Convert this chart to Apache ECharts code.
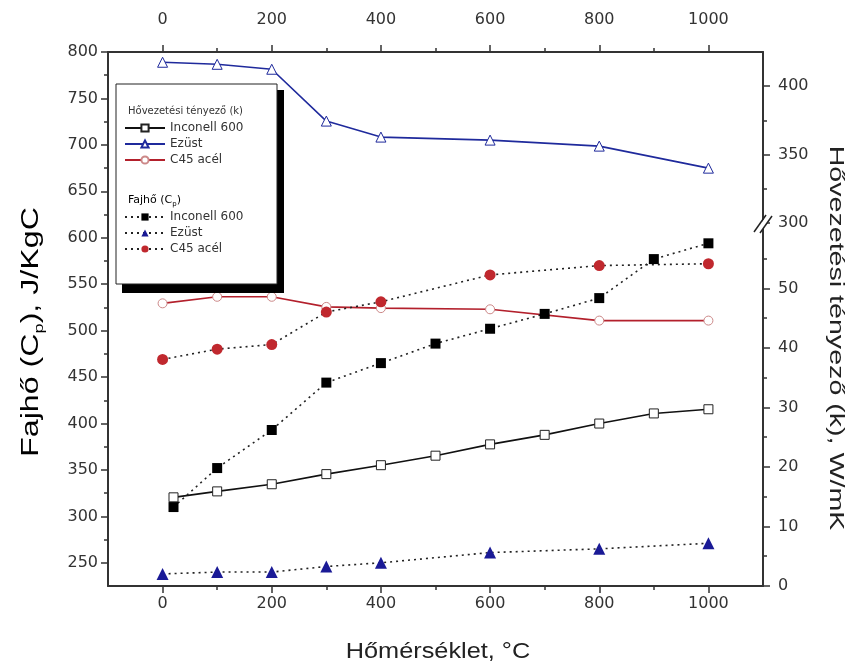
<!DOCTYPE html>
<html>
<head>
<meta charset="utf-8">
<script src="https://cdn.jsdelivr.net/npm/echarts@6/dist/echarts.min.js"></script>
<style>html,body{margin:0;padding:0;background:#fff}#c{width:852px;height:671px}</style>
</head>
<body>
<div id="c"></div>
<script>
// ---- data ----
const tempsInconel = [20, 100, 200, 300, 400, 500, 600, 700, 800, 900, 1000];
const tempsOther = [0, 100, 200, 300, 400, 600, 800, 1000];
const kInconel = [14.9, 15.9, 17.1, 18.8, 20.3, 21.9, 23.8, 25.4, 27.3, 29.0, 29.7];
const kEzust = [417.5, 416, 412.4, 374.5, 362.8, 360.6, 356.2, 340.1];
const kC45 = [47.5, 48.6, 48.6, 46.9, 46.7, 46.5, 44.6, 44.6];
const cpInconel = [310, 352, 393, 444, 465, 486, 502, 518, 535, 577, 594];
const cpEzust = [238, 240, 240, 246, 250, 261, 265, 271];
const cpC45 = [469, 480, 485, 520, 531, 560, 570, 572];
const xTicks = [0, 200, 400, 600, 800, 1000];
const xMinor = [100, 300, 500, 700, 900];
const leftTicks = [250, 300, 350, 400, 450, 500, 550, 600, 650, 700, 750, 800];
const leftMinor = [275, 325, 375, 425, 475, 525, 575, 625, 675, 725, 775];
const rightLowTicks = [0, 10, 20, 30, 40, 50];
const rightLowMinor = [5, 15, 25, 35, 45, 55];
const rightHighTicks = [300, 350, 400];
const rightHighMinor = [325, 375];
const names = ['Inconell 600', 'Ezüst', 'C45 acél'];

const zip = (xs, ys) => xs.map((x, i) => [x, ys[i]]);
const FONT = '"Liberation Sans", Arial, sans-serif';
const WFONT = '"DejaVu Sans", sans-serif';
const AX = {onZero: false, lineStyle: {color: '#333', width: 2}};
const NOAX = {show: false, onZero: false};
const lab = {fontFamily: WFONT, fontSize: 16, color: '#333', formatter: v => String(v)};

function xAx(grid, pos, major, show, margin) {
  return {
    type: 'value', gridIndex: grid, position: pos, min: -100, max: 1100,
    show: show, splitLine: {show: false},
    axisLine: major ? AX : NOAX,
    axisTick: major ? {customValues: xTicks, length: 7, lineStyle: {color: '#333', width: 1.5}}
                    : {customValues: xMinor, length: 4, lineStyle: {color: '#333', width: 1.5}},
    axisLabel: major ? Object.assign({customValues: xTicks, margin: margin}, lab) : {show: false}
  };
}
function yAx(grid, pos, min, max, ticks, len, labels, margin) {
  return {
    type: 'value', gridIndex: grid, position: pos, min: min, max: max,
    splitLine: {show: false},
    axisLine: labels ? AX : NOAX,
    axisTick: {customValues: ticks, length: len, lineStyle: {color: '#333', width: 1.5}},
    axisLabel: labels ? Object.assign({customValues: ticks, margin: margin}, lab) : {show: false}
  };
}

const chart = echarts.init(document.getElementById('c'), null, {renderer: 'canvas'});
const dotted = {color: '#222', width: 1.6, type: [2, 4]};
const BLUE = '#1f2a9c', RED = '#b3202c', MRED = '#c0282e';
const legText = {fontFamily: WFONT, fontSize: 12, color: '#333'};

chart.setOption({
  animation: false,
  backgroundColor: '#fff',
  grid: [
    {left: 108, right: 89, top: 52, bottom: 85},
    {left: 108, right: 89, top: 52, bottom: 448},
    {left: 108, right: 89, top: 223, bottom: 85}
  ],
  xAxis: [
    xAx(0, 'bottom', true, true, 10),
    xAx(0, 'bottom', false, true),
    xAx(0, 'top', true, true, 24),
    xAx(0, 'top', false, true),
    xAx(1, 'bottom', false, false),
    xAx(2, 'bottom', false, false)
  ],
  yAxis: [
    yAx(0, 'left', 225, 800, leftTicks, 7, true, 10),
    yAx(0, 'left', 225, 800, leftMinor, 4, false),
    yAx(2, 'right', 0, 61, rightLowTicks, 7, true, 15),
    yAx(2, 'right', 0, 61, rightLowMinor, 4, false),
    yAx(1, 'right', 300, 425, rightHighTicks, 7, true, 15),
    yAx(1, 'right', 300, 425, rightHighMinor, 4, false)
  ],
  legend: [
    {
      data: names.map(n => 'k|' + n), orient: 'vertical', left: 124, top: 122,
      padding: 0, itemGap: 4, itemWidth: 40, itemHeight: 9,
      formatter: n => n.split('|')[1], textStyle: legText, z: 20
    },
    {
      data: names.map(n => 'cp|' + n), orient: 'vertical', left: 124, top: 211,
      padding: 0, itemGap: 4, itemWidth: 40, itemHeight: 9,
      formatter: n => n.split('|')[1], textStyle: legText, z: 20
    }
  ],
  series: [
    {name: 'k|Inconell 600', type: 'line', xAxisIndex: 5, yAxisIndex: 2,
     data: zip(tempsInconel, kInconel), symbol: 'rect', symbolSize: 9,
     lineStyle: {color: '#111', width: 1.6}, itemStyle: {color: '#fff', borderColor: '#222', borderWidth: 1}},
    {name: 'k|Ezüst', type: 'line', xAxisIndex: 4, yAxisIndex: 4,
     data: zip(tempsOther, kEzust), symbol: 'triangle', symbolSize: 10,
     lineStyle: {color: BLUE, width: 1.6}, itemStyle: {color: '#fff', borderColor: BLUE, borderWidth: 1}},
    {name: 'k|C45 acél', type: 'line', xAxisIndex: 5, yAxisIndex: 2,
     data: zip(tempsOther, kC45), symbol: 'circle', symbolSize: 9,
     lineStyle: {color: RED, width: 1.6}, itemStyle: {color: '#fff', borderColor: '#c88', borderWidth: 1}},
    {name: 'cp|Inconell 600', type: 'line', xAxisIndex: 0, yAxisIndex: 0,
     data: zip(tempsInconel, cpInconel), symbol: 'rect', symbolSize: 10,
     lineStyle: dotted, itemStyle: {color: '#000'}},
    {name: 'cp|Ezüst', type: 'line', xAxisIndex: 0, yAxisIndex: 0,
     data: zip(tempsOther, cpEzust), symbol: 'triangle', symbolSize: 12,
     lineStyle: dotted, itemStyle: {color: '#1a1a96'}},
    {name: 'cp|C45 acél', type: 'line', xAxisIndex: 0, yAxisIndex: 0,
     data: zip(tempsOther, cpC45), symbol: 'circle', symbolSize: 11,
     lineStyle: dotted, itemStyle: {color: MRED}}
  ],
  graphic: [
    // legend box with shadow
    {type: 'rect', z: 10, shape: {x: 122, y: 90, width: 162, height: 203}, style: {fill: '#000'}},
    {type: 'rect', z: 11, shape: {x: 116, y: 84, width: 161, height: 200}, style: {fill: '#fff', stroke: '#222', lineWidth: 1}},
    {type: 'text', z: 12, x: 128, y: 106, style: {text: 'Hővezetési tényező (k)', font: '10px ' + WFONT, fill: '#333'}},
    {type: 'text', z: 12, x: 128, y: 193, style: {
      text: '{a|Fajhő (C}{s|p}{a|)}',
      rich: {a: {fontFamily: WFONT, fontSize: 11, color: '#333'},
             s: {fontFamily: WFONT, fontSize: 7, color: '#333', padding: [8, 0, 0, 0]}}}},
    // axis break mark
    {type: 'polygon', z: 15, shape: {points: [[755, 232], [766, 216], [772, 216], [761, 232]]}, style: {fill: '#fff'}},
    {type: 'line', z: 16, shape: {x1: 754, y1: 232, x2: 766, y2: 215}, style: {stroke: '#222', lineWidth: 1.5}},
    {type: 'line', z: 16, shape: {x1: 760, y1: 233, x2: 772, y2: 216}, style: {stroke: '#222', lineWidth: 1.5}},
    // axis titles
    {type: 'text', x: 32, y: 332, rotation: Math.PI / 2, scaleX: 1.4, style: {
      text: '{a|Fajhő (C}{s|p}{a|), J/KgC}', align: 'center', verticalAlign: 'middle',
      rich: {a: {fontFamily: FONT, fontSize: 23, color: '#222'},
             s: {fontFamily: FONT, fontSize: 13, color: '#222', padding: [14, 0, 0, 0]}}}},
    {type: 'text', x: 836, y: 338, rotation: -Math.PI / 2, scaleX: 1.43, style: {
      text: 'Hővezetési tényező (k), W/mK', align: 'center', verticalAlign: 'middle',
      font: '20px ' + FONT, fill: '#222'}},
    {type: 'text', x: 438, y: 652, scaleX: 1.15, style: {
      text: 'Hőmérséklet, °C', align: 'center', verticalAlign: 'middle',
      font: '22px ' + FONT, fill: '#222'}}
  ]
});
</script>
</body>
</html>
